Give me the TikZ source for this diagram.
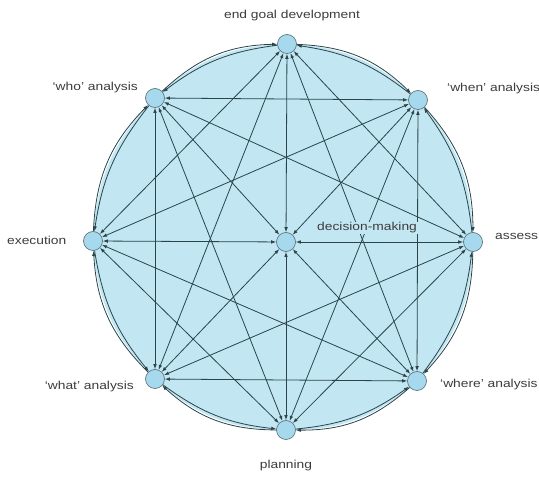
\documentclass[tikz,border=0pt]{standalone}
\usepackage{fontspec}
\usetikzlibrary{arrows.meta}
\newfontfamily\labfont[FakeStretch=1.2]{Liberation Sans}
\definecolor{bgblue}{RGB}{194,231,243}
\definecolor{nodeblue}{RGB}{166,216,238}
\definecolor{linecol}{RGB}{42,68,74}
\definecolor{txtcol}{RGB}{60,60,60}
\pgfdeclarelayer{background}
\pgfsetlayers{background,main}
\tikzset{
  hub/.style={circle, draw=linecol!80, line width=0.6pt, fill=nodeblue, minimum size=19pt, inner sep=0pt},
  lab/.style={font=\labfont\fontsize{11.5}{13}\selectfont, text=txtcol, inner sep=1pt},
  link/.style={draw=linecol, line width=0.8pt, {Latex[length=5pt,width=3.6pt]}-{Latex[length=5pt,width=3.6pt]}},
  rim/.style={draw=linecol, line width=0.8pt, -{Latex[length=5pt,width=3.6pt]}}
}
\begin{document}
\begin{tikzpicture}[x=1pt,y=1pt]
\useasboundingbox (0,0) rectangle (539,-478);
\coordinate (p1) at (287,-44);
\coordinate (p2) at (418,-100);
\coordinate (p3) at (473,-242);
\coordinate (p4) at (417,-381);
\coordinate (p5) at (286,-430);
\coordinate (p6) at (155,-379);
\coordinate (p7) at (93,-241);
\coordinate (p8) at (155,-98);
\coordinate (pc) at (286,-242);
\foreach \k in {1,...,8} { \node[hub] (n\k) at (p\k) {}; }
\node[hub] (nc) at (pc) {};
\node[lab] (t1) at (292,-16) {end goal development};
\node[lab, anchor=west] (t2) at (446,-89) {‘when’ analysis};
\node[lab, anchor=west] (t3) at (494,-236) {assess};
\node[lab, anchor=west] (t4) at (439,-385) {‘where’ analysis};
\node[lab] (t5) at (286,-466) {planning};
\node[lab, anchor=east] (t6) at (135,-387) {‘what’ analysis};
\node[lab, anchor=west] (t7) at (6,-240) {execution};
\node[lab, anchor=east] (t8) at (139,-88) {‘who’ analysis};
\begin{pgfonlayer}{background}
\fill[bgblue] (p1) to[bend left=21] (p2) to[bend left=21] (p3) to[bend left=21] (p4)
  to[bend left=21] (p5) to[bend left=21] (p6) to[bend left=21] (p7)
  to[bend left=21] (p8) to[bend left=21] (p1) -- cycle;
\foreach \a/\b in {1/2,2/3,3/4,4/5,5/6,6/7,7/8,8/1} {
  \draw[rim] (n\a) to[bend left=21] (n\b);
  \draw[rim] (n\b) to[bend right=15] (n\a);
}
\foreach \a/\b in {1/3,2/4,3/5,4/6,5/7,6/8,7/1,8/2,1/4,2/5,3/6,4/7,5/8,6/1,7/2,8/3} {
  \draw[link] (n\a) -- (n\b);
}
\foreach \a in {1,...,8} { \draw[link] (nc) -- (n\a); }
\end{pgfonlayer}
\node[lab, fill=bgblue, anchor=west] (tc) at (316,-228) {decision-making};
\end{tikzpicture}
\end{document}
